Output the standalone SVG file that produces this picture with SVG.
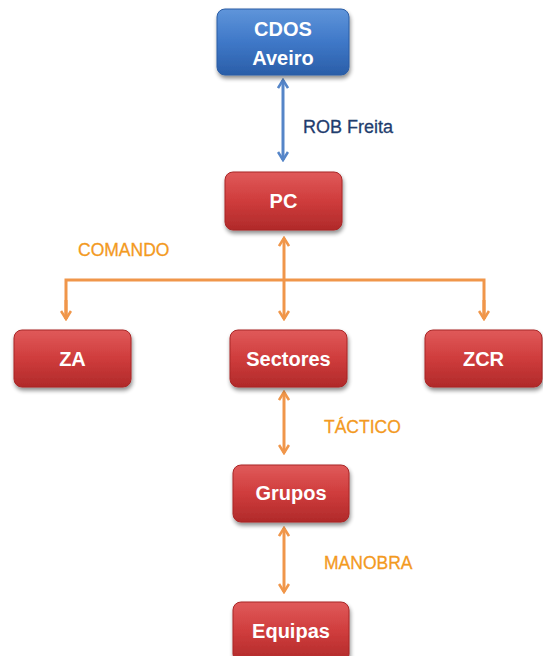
<svg xmlns="http://www.w3.org/2000/svg" width="543" height="656" viewBox="0 0 543 656">
<defs>
<linearGradient id="gRed" x1="0" y1="0" x2="0" y2="1">
<stop offset="0" stop-color="#e05a5a"/>
<stop offset="0.5" stop-color="#cf3c3c"/>
<stop offset="1" stop-color="#b02a2a"/>
</linearGradient>
<linearGradient id="gBlue" x1="0" y1="0" x2="0" y2="1">
<stop offset="0" stop-color="#5f95da"/>
<stop offset="0.5" stop-color="#3f78c8"/>
<stop offset="1" stop-color="#2a5ea8"/>
</linearGradient>
<filter id="sh" x="-20%" y="-20%" width="140%" height="150%">
<feGaussianBlur in="SourceAlpha" stdDeviation="2"/>
<feOffset dx="1" dy="3" result="o"/>
<feComponentTransfer><feFuncA type="linear" slope="0.45"/></feComponentTransfer>
<feMerge><feMergeNode/><feMergeNode in="SourceGraphic"/></feMerge>
</filter>
<marker id="aO" viewBox="0 0 12 12" refX="10" refY="6" markerWidth="12" markerHeight="12" markerUnits="userSpaceOnUse" orient="auto-start-reverse">
<polyline points="2,1 10,6 2,11" fill="none" stroke="#f0964a" stroke-width="2.6" stroke-linejoin="miter"/>
</marker>
<marker id="aB" viewBox="0 0 12 12" refX="10" refY="6" markerWidth="12" markerHeight="12" markerUnits="userSpaceOnUse" orient="auto-start-reverse">
<polyline points="2,1 10,6 2,11" fill="none" stroke="#5585c8" stroke-width="2.6" stroke-linejoin="miter"/>
</marker>
</defs>
<style>
.red{fill:url(#gRed);stroke:#a82626;stroke-width:1;filter:url(#sh)}
.blue{fill:url(#gBlue);stroke:#2a5ca4;stroke-width:1;filter:url(#sh)}
.nt{font-family:"Liberation Sans",Arial,sans-serif;font-weight:bold;font-size:20px;fill:#ffffff;text-anchor:middle}
.ol{fill:none;stroke:#f0964a;stroke-width:3}
.bl{fill:none;stroke:#5585c8;stroke-width:3}
.lo{font-family:"Liberation Sans",Arial,sans-serif;font-size:17.5px;fill:#f39a1f;stroke:#f39a1f;stroke-width:0.3}
.lb{font-family:"Liberation Sans",Arial,sans-serif;font-size:18px;fill:#1f3d6e;stroke:#1f3d6e;stroke-width:0.3}
</style>
<rect width="543" height="656" fill="#ffffff"/>
<g id="connectors">
<line class="bl" x1="283" y1="80" x2="283" y2="160" marker-start="url(#aB)" marker-end="url(#aB)"/>
<line class="ol" x1="284" y1="238" x2="284" y2="319" marker-start="url(#aO)" marker-end="url(#aO)"/>
<polyline class="ol" points="66,319 66,280 484,280 484,319"/>
<line class="ol" x1="66" y1="300" x2="66" y2="319" marker-end="url(#aO)"/>
<line class="ol" x1="484" y1="300" x2="484" y2="319" marker-end="url(#aO)"/>
<line class="ol" x1="284" y1="392" x2="284" y2="453" marker-start="url(#aO)" marker-end="url(#aO)"/>
<line class="ol" x1="284" y1="528" x2="284" y2="592" marker-start="url(#aO)" marker-end="url(#aO)"/>
<text class="lb" x="303" y="133">ROB Freita</text>
<text class="lo" x="78" y="256">COMANDO</text>
<text class="lo" x="324" y="433">TÁCTICO</text>
<text class="lo" x="324" y="569">MANOBRA</text>
</g>
<g id="cdos">
<rect class="blue" x="217" y="9" width="132" height="66" rx="8"/>
<text class="nt" x="283" y="36">CDOS</text>
<text class="nt" x="283" y="65">Aveiro</text>
</g>
<g id="pc">
<rect class="red" x="225" y="172" width="117" height="58" rx="8"/>
<text class="nt" x="283.5" y="208">PC</text>
</g>
<g id="za">
<rect class="red" x="14" y="330" width="117" height="57" rx="8"/>
<text class="nt" x="72.5" y="366">ZA</text>
</g>
<g id="sectores">
<rect class="red" x="230" y="330" width="117" height="57" rx="8"/>
<text class="nt" x="288.5" y="366">Sectores</text>
</g>
<g id="zcr">
<rect class="red" x="425" y="330" width="117" height="57" rx="8"/>
<text class="nt" x="483.5" y="366">ZCR</text>
</g>
<g id="grupos">
<rect class="red" x="233" y="465" width="116" height="57" rx="8"/>
<text class="nt" x="291" y="500">Grupos</text>
</g>
<g id="equipas">
<rect class="red" x="233" y="602" width="116" height="60" rx="8"/>
<text class="nt" x="291" y="638">Equipas</text>
</g>
</svg>
